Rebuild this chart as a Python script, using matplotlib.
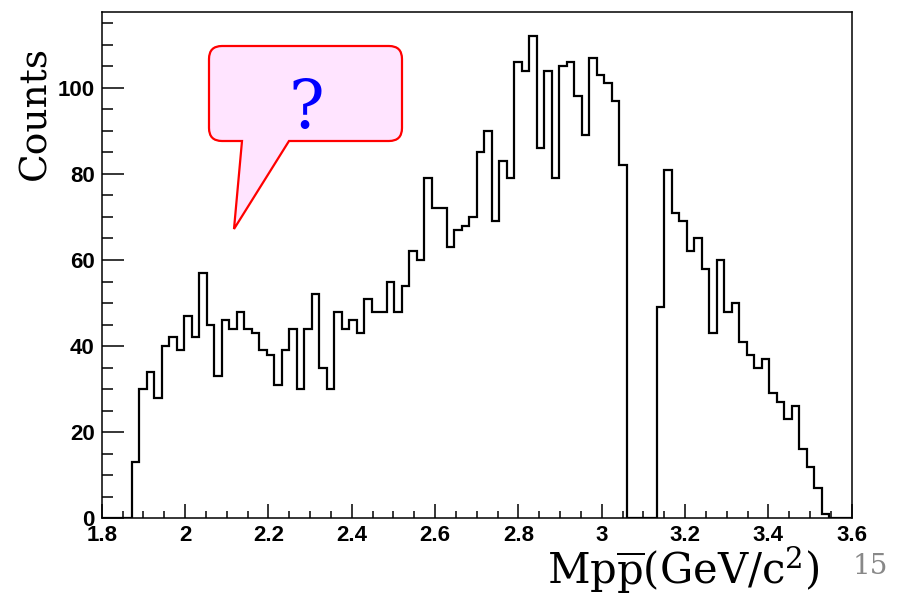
import numpy as np
import matplotlib
matplotlib.use('Agg')
import matplotlib.pyplot as plt
from matplotlib.path import Path
from matplotlib.patches import PathPatch
from matplotlib.ticker import MultipleLocator, FuncFormatter

# histogram: 100 bins between 1.8 and 3.6 GeV/c^2
x_lo, x_hi, n_bins = 1.8, 3.6, 100
counts = [0, 0, 0, 0, 13, 30, 34, 28, 40, 42,
          39, 47, 42, 57, 45, 33, 46, 44, 48, 44,
          43, 39, 38, 31, 39, 44, 30, 44, 52, 35,
          30, 48, 44, 46, 43, 51, 48, 48, 55, 48,
          54, 62, 60, 79, 72, 72, 63, 67, 68, 70,
          85, 90, 69, 83, 79, 106, 104, 112, 86, 104,
          79, 105, 106, 98, 89, 107, 103, 101, 97, 82,
          0, 0, 0, 0, 49, 81, 71, 69, 62, 65,
          58, 43, 60, 48, 50, 41, 38, 35, 37, 29,
          27, 23, 26, 16, 12, 7, 1, 0, 0, 0]
x_ticks = [1.8, 2.0, 2.2, 2.4, 2.6, 2.8, 3.0, 3.2, 3.4, 3.6]
y_ticks = [0, 20, 40, 60, 80, 100]

plt.rcParams['mathtext.fontset'] = 'dejavuserif'

W, H = 903, 595
fig = plt.figure(figsize=(W / 100, H / 100), dpi=100)
ax = fig.add_axes([101.7 / W, 1 - 518.3 / H, 750 / W, 506.3 / H])

edges = np.linspace(x_lo, x_hi, n_bins + 1)
ax.stairs(counts, edges, color='black', lw=1.6)

ax.set_xlim(x_lo, x_hi)
ax.set_ylim(0, max(counts) * 1.05)
ax.set_xticks(x_ticks)
ax.set_yticks(y_ticks)
ax.xaxis.set_minor_locator(MultipleLocator(0.05))
ax.yaxis.set_minor_locator(MultipleLocator(5))
fmt = FuncFormatter(lambda v, p: f'{v:g}')
ax.xaxis.set_major_formatter(fmt)
ax.yaxis.set_major_formatter(fmt)
ax.tick_params(axis='x', which='major', direction='in', length=10, width=1.1, pad=5)
ax.tick_params(axis='x', which='minor', direction='in', length=5, width=1.1)
ax.tick_params(axis='y', which='major', direction='in', length=16, width=1.1, pad=5)
ax.tick_params(axis='y', which='minor', direction='in', length=8, width=1.1)
for lab in ax.get_xticklabels() + ax.get_yticklabels():
    lab.set_fontfamily('Liberation Sans')
    lab.set_fontweight('bold')
    lab.set_fontsize(16)
for s in ax.spines.values():
    s.set_linewidth(1.1)

# overlay in pixel coordinates for slide annotations
ov = fig.add_axes([0, 0, 1, 1], facecolor='none')
ov.set_xlim(0, W)
ov.set_ylim(H, 0)
ov.axis('off')

x0, x1, y0, y1, r = 209, 402, 46, 141, 13
verts = [(x0 + r, y0), (x1 - r, y0), (x1, y0), (x1, y0 + r), (x1, y1 - r),
         (x1, y1), (x1 - r, y1), (289, y1), (234, 229), (242, y1),
         (x0 + r, y1), (x0, y1), (x0, y1 - r), (x0, y0 + r), (x0, y0),
         (x0 + r, y0), (x0 + r, y0)]
codes = [Path.MOVETO, Path.LINETO, Path.CURVE3, Path.CURVE3, Path.LINETO,
         Path.CURVE3, Path.CURVE3, Path.LINETO, Path.LINETO, Path.LINETO,
         Path.LINETO, Path.CURVE3, Path.CURVE3, Path.LINETO, Path.CURVE3,
         Path.CURVE3, Path.CLOSEPOLY]
ov.add_patch(PathPatch(Path(verts, codes), facecolor='#ffe4ff', edgecolor='red', lw=1.6))
ov.text(306, 109, '?', color='blue', fontsize=48, family='DejaVu Serif',
        ha='center', va='center')

ov.text(35, 113, 'Counts', rotation=90, fontsize=27, family='DejaVu Serif',
        ha='center', va='center')
ov.text(683, 570, r'$\mathrm{Mp\overline{p}(GeV/c^2)}$', fontsize=30,
        ha='center', va='center')
ov.text(870, 566, '15', color='#888888', fontsize=20, family='DejaVu Serif',
        ha='center', va='center')

fig.savefig('out.png', dpi=100)
